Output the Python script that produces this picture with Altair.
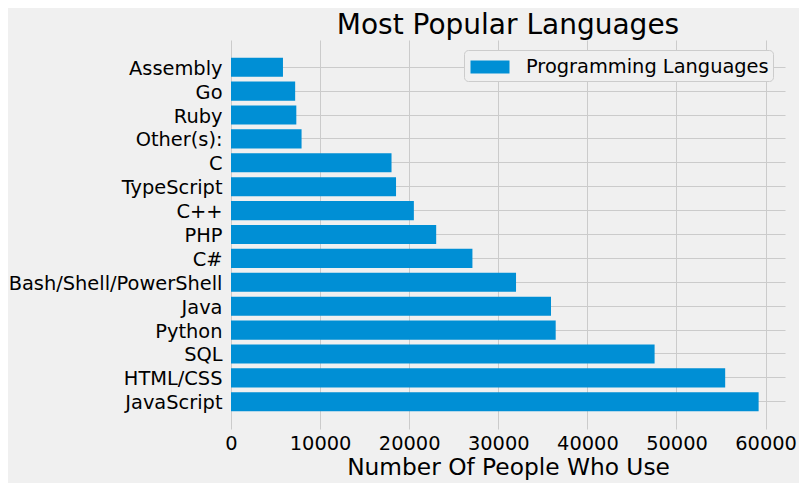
import altair as alt
import pandas as pd

languages = ["JavaScript", "HTML/CSS", "SQL", "Python", "Java",
             "Bash/Shell/PowerShell", "C#", "PHP", "C++", "TypeScript",
             "C", "Other(s):", "Ruby", "Go", "Assembly"]
users = [59219, 55466, 47544, 36443, 35917, 31991, 27097, 23030, 20524,
         18523, 18017, 7920, 7331, 7201, 5833]
series_name = "Programming Languages"
x_ticks = [0, 10000, 20000, 30000, 40000, 50000, 60000]

df = pd.DataFrame({"language": languages, "users": users,
                   "series": [series_name] * len(languages)})

FONT = "DejaVu Sans"
order = list(reversed(languages))  # Assembly on top

chart = alt.Chart(df).mark_bar(color="#008fd5").encode(
    x=alt.X("users:Q",
            scale=alt.Scale(domain=[0, max(users) * 1.05], nice=False, zero=True),
            axis=alt.Axis(values=x_ticks, format="d", title="Number Of People Who Use",
                          ticks=False, tickSize=0, domain=False,
                          grid=True, gridColor="#cbcbcb", gridWidth=1,
                          labelFont=FONT, labelFontSize=19.4, labelColor="#000000",
                          labelPadding=5, labelFlush=False,
                          titleFont=FONT, titleFontSize=23.3, titleFontWeight="normal",
                          titleColor="#000000", titlePadding=4)),
    y=alt.Y("language:N", sort=order,
            scale=alt.Scale(paddingInner=0.2, paddingOuter=0.74),
            axis=alt.Axis(title=None, ticks=False, tickSize=0, domain=False,
                          bandPosition=0.5,
                          grid=True, gridColor="#cbcbcb", gridWidth=1,
                          labelFont=FONT, labelFontSize=19.4, labelColor="#000000",
                          labelPadding=9, labelOffset=1.5, labelLimit=400)),
    color=alt.Color("series:N", scale=alt.Scale(range=["#008fd5"]),
                    legend=alt.Legend(title=None, orient="none", legendX=233, legendY=10,
                                      padding=4, strokeColor="#cccccc", fillColor="#f0f0f0",
                                      cornerRadius=4,
                                      symbolType="M-1.5,-0.5H1.5V0.5H-1.5Z", symbolSize=676,
                                      symbolOffset=9, symbolStrokeWidth=0, symbolOpacity=1,
                                      labelFont=FONT, labelFontSize=19.4, labelColor="#000000",
                                      labelOffset=23, labelLimit=400)),
).properties(
    width=554, height=389,
    title=alt.TitleParams("Most Popular Languages", font=FONT, fontSize=28,
                          fontWeight="normal", color="#000000", anchor="middle",
                          frame="group", offset=0),
    autosize=alt.AutoSizeParams(type="none"),
    padding={"left": 223, "top": 32, "right": 14, "bottom": 54},
).configure(background="#f0f0f0").configure_view(strokeWidth=0, fill="#f0f0f0")

chart.save("out.html", embed_options={"renderer": "svg", "actions": False})
